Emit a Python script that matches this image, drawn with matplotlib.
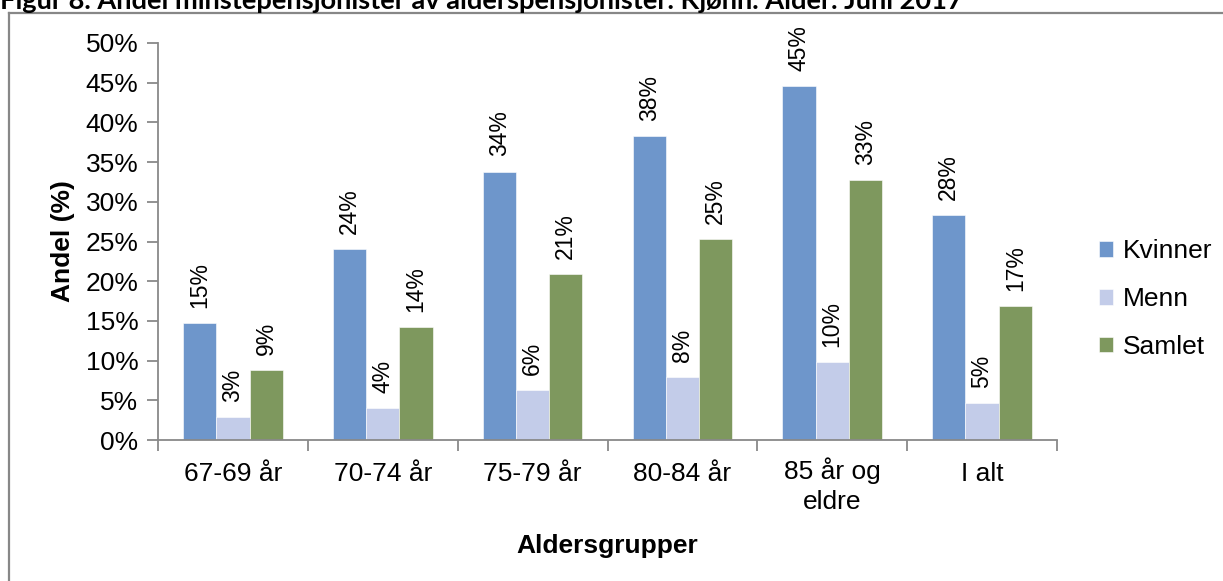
import matplotlib.pyplot as plt
import matplotlib.transforms as mtransforms
import numpy as np
from matplotlib.lines import Line2D

# Andel minstepensjonister etter kjønn og aldersgruppe (juni 2017)
categories = ["67-69 år", "70-74 år", "75-79 år", "80-84 år", "85 år og\neldre", "I alt"]
kvinner = [14.7, 24.0, 33.8, 38.3, 44.6, 28.3]
menn = [2.9, 4.0, 6.3, 7.9, 9.8, 4.6]
samlet = [8.8, 14.2, 20.9, 25.3, 32.7, 16.9]
series_names = ["Kvinner", "Menn", "Samlet"]
y_ticks = [0, 5, 10, 15, 20, 25, 30, 35, 40, 45, 50]

colors = ["#6E96CB", "#C3CCE9", "#7E985E"]
axis_grey = "#898989"
fs = 19

plt.rcParams['font.family'] = ['Liberation Sans', 'DejaVu Sans']

fig = plt.figure(figsize=(12.23, 5.81), dpi=100)
ax = fig.add_axes([158/1223, 1 - 440/581, (1057-158)/1223, (440-43)/581])

x = np.arange(len(categories))
w = 0.222
for i, (vals, name) in enumerate(zip([kvinner, menn, samlet], series_names)):
    bars = ax.bar(x + (i - 1) * w, vals, width=w, color=colors[i], label=name,
                  edgecolor="white", linewidth=0.4)
    for b, v in zip(bars, vals):
        ax.annotate(f"{round(v):.0f}%", (b.get_x() + b.get_width() / 2, v),
                    xytext=(0, 11), textcoords="offset points",
                    rotation=90, ha="center", va="bottom", fontsize=16.5)

ax.set_xlim(-0.5, len(categories) - 0.5)
ax.set_ylim(0, 50)
ax.set_yticks(y_ticks)
ax.set_yticklabels([f"{t}%" for t in y_ticks])
ax.set_xticks(x)
ax.set_xticklabels(categories)
ax.set_xticks(np.arange(len(categories) + 1) - 0.5, minor=True)
ax.tick_params(axis="x", which="major", length=0, pad=16, labelsize=fs)
ax.tick_params(axis="x", which="minor", length=8, color=axis_grey, width=1.3)
ax.tick_params(axis="y", length=8, color=axis_grey, width=1.3, labelsize=fs, pad=6)

# two-line label sits a bit low in matplotlib, nudge it up to line up with the rest
for lbl in ax.get_xticklabels():
    if "\n" in lbl.get_text():
        lbl.set_linespacing(1.3)
        lbl.set_transform(lbl.get_transform() +
                          mtransforms.ScaledTranslation(0, 5/100, fig.dpi_scale_trans))

for s in ["top", "right"]:
    ax.spines[s].set_visible(False)
for s in ["left", "bottom"]:
    ax.spines[s].set_color(axis_grey)
    ax.spines[s].set_linewidth(1.3)

ax.set_ylabel("Andel (%)", fontsize=fs, fontweight="bold", labelpad=8)
ax.set_xlabel("Aldersgrupper", fontsize=fs, fontweight="bold", labelpad=15)

leg = ax.legend(loc="center left", bbox_to_anchor=(1.02, 0.355), frameon=False,
                fontsize=fs, handlelength=0.55, handleheight=0.55,
                handletextpad=0.35, labelspacing=0.9)

# chart frame (only left and top edges visible in the crop)
fig.add_artist(Line2D([9/1223, 9/1223], [0, 1 - 13/581], color="#878787", lw=1.6,
                      transform=fig.transFigure))
fig.add_artist(Line2D([9/1223, 1], [1 - 13/581, 1 - 13/581], color="#878787", lw=1.6,
                      transform=fig.transFigure))

# title, cut off at the top edge like the source
fig.text(0.0, 1 - 9/581, "Figur 8. Andel minstepensjonister av alderspensjonister. Kjønn. Alder. Juni 2017",
         fontsize=19.6, fontweight="bold", family=["Lato", "DejaVu Sans"], ha="left", va="baseline")

fig.savefig("out.png", dpi=100)
